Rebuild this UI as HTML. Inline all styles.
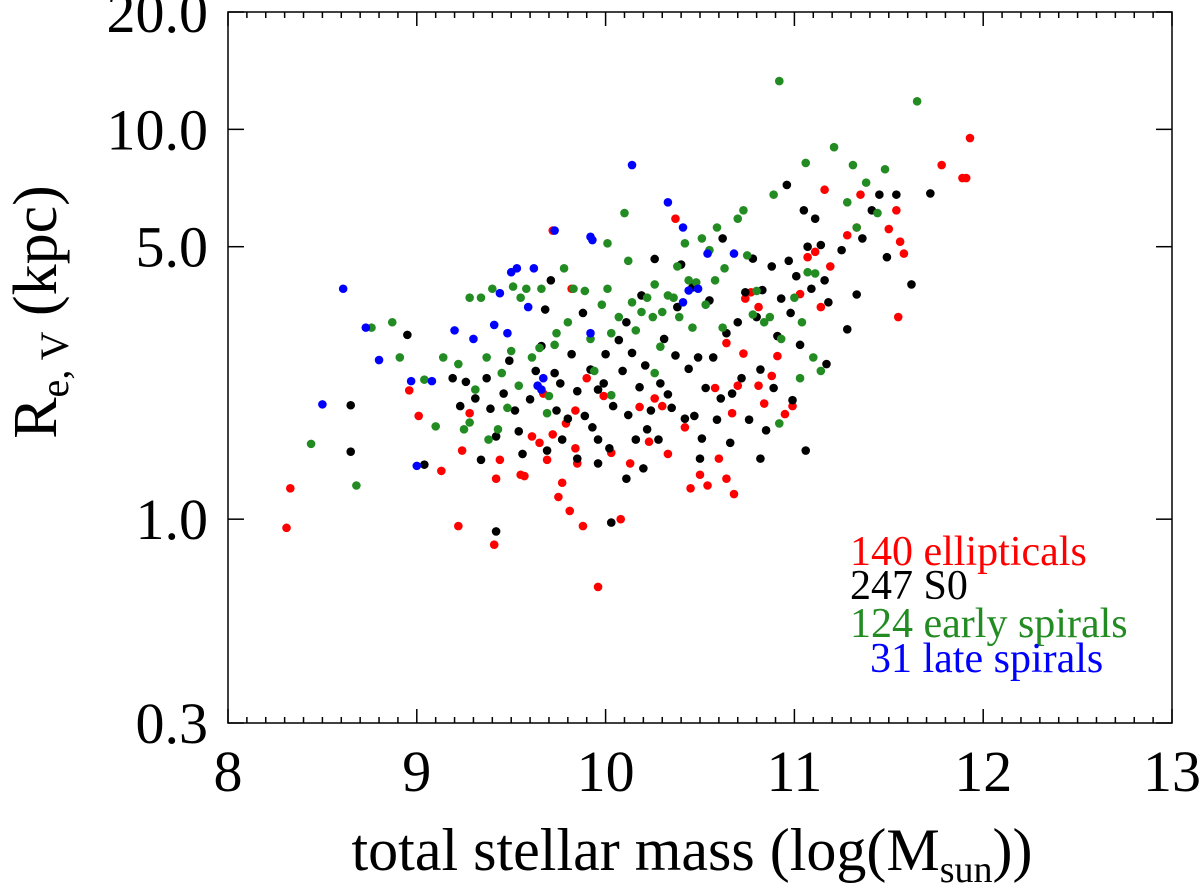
<!DOCTYPE html>
<html><head><meta charset="utf-8"><style>
html,body{margin:0;padding:0;background:#fff;}
svg{display:block;font-family:"Liberation Serif",serif;}
</style></head><body>
<svg id="chart" width="1200" height="893" viewBox="0 0 1200 893"></svg>
<script>
const xTickLabels=["8","9","10","11","12","13"];
const xTickValues=[8,9,10,11,12,13];
const yTickValues=[0.3,1,5,10,20];
const yTickLabels=["0.3","1.0","5.0","10.0","20.0"];
const legendLabels=["140 ellipticals","247 S0","124 early spirals","31 late spirals"];
const seriesColors=["#ff0000","#000000","#228b22","#0000ff"];
const lateMass=[8.61,8.73,8.8,8.5,8.97,9.0,9.08,9.2,9.3,9.41,9.48,9.53,9.62,9.44,9.5,9.59,9.64,9.73,9.66,9.92,9.92,9.93,10.14,10.33,10.41,10.49,10.41,10.44,10.54,10.68,9.67];
const lateRe=[3.9,3.1,2.56,1.97,2.26,1.37,2.26,3.05,2.9,3.15,3.0,4.4,4.4,3.8,4.3,3.5,2.2,5.5,2.15,3.0,5.3,5.2,8.1,6.5,5.6,3.9,3.6,3.86,4.8,4.8,2.3];
const earlyMass=[8.44,8.68,8.76,8.87,8.91,9.04,9.1,9.14,9.22,9.28,9.31,9.34,9.37,9.4,9.25,9.28,9.38,9.43,9.45,9.48,9.5,9.51,9.54,9.55,9.58,9.61,9.66,9.65,9.7,9.74,9.78,9.8,9.83,9.89,9.92,9.94,9.98,10.01,10.03,10.07,10.1,10.12,10.14,10.16,10.19,10.22,10.25,10.26,10.29,10.3,10.33,10.36,10.38,10.39,10.42,10.44,10.46,10.48,10.51,10.53,10.55,10.58,10.59,10.62,10.63,10.7,10.73,10.75,10.78,10.8,10.84,10.87,10.89,10.93,10.92,11.0,11.04,11.07,11.11,11.14,11.06,10.92,11.21,11.31,11.28,11.33,11.38,11.44,11.48,11.65,11.03,11.1,10.01,10.03,10.26,9.69,9.73];
const earlyRe=[1.56,1.22,3.1,3.2,2.6,2.28,1.73,2.6,2.5,3.7,2.15,3.7,2.6,3.9,1.7,1.77,1.6,1.7,2.37,1.93,2.7,3.95,2.2,3.7,3.9,2.6,3.9,2.75,2.07,3.0,4.4,3.2,3.9,3.85,2.9,2.4,3.55,3.9,3.0,3.3,6.1,4.6,3.6,3.05,3.4,3.7,3.3,4.0,2.77,3.4,3.75,3.7,4.45,3.3,5.1,4.1,3.1,4.05,5.25,3.55,4.9,4.1,5.6,3.1,4.4,5.9,6.2,4.75,3.35,3.85,3.2,3.3,6.8,2.9,1.76,3.7,3.2,4.3,4.27,2.4,8.2,13.3,9.0,8.1,6.5,5.6,7.3,6.1,7.9,11.8,2.3,2.6,5.1,2.08,2.37,1.87,2.8];
const s0Mass=[8.65,8.65,8.95,9.04,9.19,9.23,9.26,9.31,9.34,9.37,9.39,9.42,9.42,9.46,9.49,9.52,9.54,9.56,9.6,9.63,9.66,9.68,9.71,9.73,9.74,9.76,9.77,9.8,9.82,9.85,9.85,9.88,9.89,9.92,9.93,9.96,9.96,9.99,10.0,10.02,10.03,10.04,10.07,10.09,10.11,10.12,10.14,10.16,10.18,10.19,10.21,10.22,10.24,10.26,10.28,10.29,10.31,10.33,10.35,10.37,10.38,10.4,10.42,10.44,10.46,10.47,10.49,10.51,10.53,10.55,10.57,10.59,10.61,10.62,10.64,10.66,10.67,10.7,10.72,10.74,10.76,10.78,10.8,10.82,10.83,10.85,10.88,10.89,10.91,10.93,10.96,10.97,10.99,11.01,11.03,11.05,11.07,11.09,11.11,11.14,11.16,11.18,11.25,11.28,11.33,11.36,11.41,11.45,11.49,11.54,11.62,11.72,9.96,9.69,10.11,10.2,10.5,10.82,11.06,11.17,10.98];
const s0Re=[1.96,1.49,2.97,1.38,2.3,1.95,2.25,2.04,1.42,2.3,1.92,1.63,0.93,2.1,2.55,1.9,1.68,1.47,2.03,2.4,2.78,3.45,4.1,2.37,1.9,2.23,1.6,1.81,2.65,1.43,2.13,3.38,1.84,2.42,1.72,1.39,2.15,2.23,2.65,1.52,0.98,1.95,2.88,2.4,3.2,1.85,2.67,1.6,2.18,3.75,2.48,1.7,1.9,4.65,1.6,2.23,2.9,2.09,1.93,2.63,3.5,4.5,1.81,2.43,3.93,1.84,2.6,1.61,2.17,3.64,2.6,1.8,2.04,5.25,3.0,1.57,2.1,3.2,2.3,3.82,1.8,4.66,3.3,2.42,3.87,1.69,4.45,2.17,2.95,3.68,7.2,4.6,2.02,4.2,2.8,6.2,5.0,3.9,5.9,5.05,4.1,3.6,4.9,3.07,3.77,5.25,6.2,6.8,4.7,6.8,4.0,6.85,1.6,1.5,1.27,1.35,1.43,1.43,1.5,2.5,3.38];
const ellMass=[8.31,8.33,8.96,9.01,9.13,9.22,9.24,9.28,9.41,9.44,9.42,9.55,9.57,9.65,9.69,9.72,9.72,9.75,9.77,9.79,9.81,9.82,9.84,9.85,9.88,9.9,9.96,9.99,10.08,10.13,10.23,10.3,10.37,10.42,10.45,10.5,10.54,10.6,10.64,10.64,10.68,10.7,10.74,10.77,10.81,10.81,10.84,10.88,10.91,10.95,10.99,11.03,11.07,11.11,11.14,11.16,11.19,11.28,11.33,11.35,11.5,11.54,11.56,11.58,11.55,11.78,11.89,11.91,11.93,10.18,10.26,10.58,10.67,10.73,10.33,10.03,9.67,9.84,9.61];
const ellRe=[0.95,1.2,2.14,1.84,1.33,0.96,1.5,1.87,0.86,1.42,1.27,1.3,1.29,1.57,1.42,5.5,1.65,1.14,1.24,1.76,1.05,3.9,1.52,1.39,0.96,2.3,0.67,2.07,1.0,1.39,1.58,1.95,5.9,1.72,1.2,1.3,1.22,1.43,1.27,2.83,1.16,2.2,3.68,3.82,2.2,3.5,1.98,2.33,2.62,1.86,1.95,3.78,4.7,4.85,3.5,7.0,4.45,5.35,5.6,6.8,5.55,6.2,5.15,4.8,3.3,8.1,7.5,7.5,9.5,1.94,2.04,2.17,1.87,2.66,1.47,1.48,2.1,1.9,1.63];

const L=228,R=1172,T=12,B=723,XMIN=8,XMAX=13,YMIN=0.3,YMAX=20;
const NS="http://www.w3.org/2000/svg";
const svg=document.getElementById('chart');
function xs(v){return L+(v-XMIN)/(XMAX-XMIN)*(R-L);}
function ys(v){return B-(Math.log10(v)-Math.log10(YMIN))/(Math.log10(YMAX)-Math.log10(YMIN))*(B-T);}
function mk(tag,attrs,parent){const e=document.createElementNS(NS,tag);for(const k in attrs)e.setAttribute(k,attrs[k]);(parent||svg).appendChild(e);return e;}

const axes=mk('g',{});


const frame=mk('rect',{x:L,y:T,width:R-L,height:B-T,fill:'none',stroke:'#000','stroke-width':1.5},axes);


for(let i=0;i<=50;i++){
  const v=XMIN+i*0.1,x=xs(v),major=(i%10===0),len=major?14:6;
  mk('line',{x1:x,y1:B,x2:x,y2:B-len,stroke:'#000','stroke-width':1.5},axes);
  mk('line',{x1:x,y1:T,x2:x,y2:T+len,stroke:'#000','stroke-width':1.5},axes);
}
xTickValues.forEach((v,i)=>{
  const t=mk('text',{x:xs(v),y:791,'font-size':58,'text-anchor':'middle',fill:'#000'});
  t.textContent=xTickLabels[i];
  
  
});
yTickValues.forEach((v,i)=>{
  const y=ys(v);
  mk('line',{x1:L,y1:y,x2:L+16,y2:y,stroke:'#000','stroke-width':1.5},axes);
  mk('line',{x1:R,y1:y,x2:R-16,y2:y,stroke:'#000','stroke-width':1.5},axes);
  const t=mk('text',{x:208,y:y+20,'font-size':58,'text-anchor':'end',fill:'#000'});
  t.textContent=yTickLabels[i];
  
  
});

const series=[[ellMass,ellRe],[s0Mass,s0Re],[earlyMass,earlyRe],[lateMass,lateRe]];
const seriesNames=['ellipticals','s0','early-spirals','late-spirals'];
series.forEach((s,si)=>{
  const g=mk('g',{fill:seriesColors[si]});
  
  
  s[0].forEach((m,i)=>{
    const c=mk('circle',{cx:xs(m),cy:ys(s[1][i]),r:4.3},g);
    
    
  });
});

const legX=[850,850,850,870],legY=[565,599,637,672];
legendLabels.forEach((lab,i)=>{
  const t=mk('text',{x:legX[i],y:legY[i],'font-size':42,fill:seriesColors[i]});
  t.textContent=lab;
  
  
});
</script>
<svg style="position:absolute;left:0;top:0" width="1200" height="893">
  <text x="692" y="870" font-size="60" text-anchor="middle" font-family="Liberation Serif, serif">total stellar mass (log(M<tspan font-size="38" dy="12">sun</tspan><tspan dy="-12">))</tspan></text>
  <text transform="translate(56,312) rotate(-90)" font-size="62" text-anchor="middle" font-family="Liberation Serif, serif">R<tspan font-size="40" dy="12">e, V</tspan><tspan dy="-12"> (kpc)</tspan></text>
</svg>
</body></html>
